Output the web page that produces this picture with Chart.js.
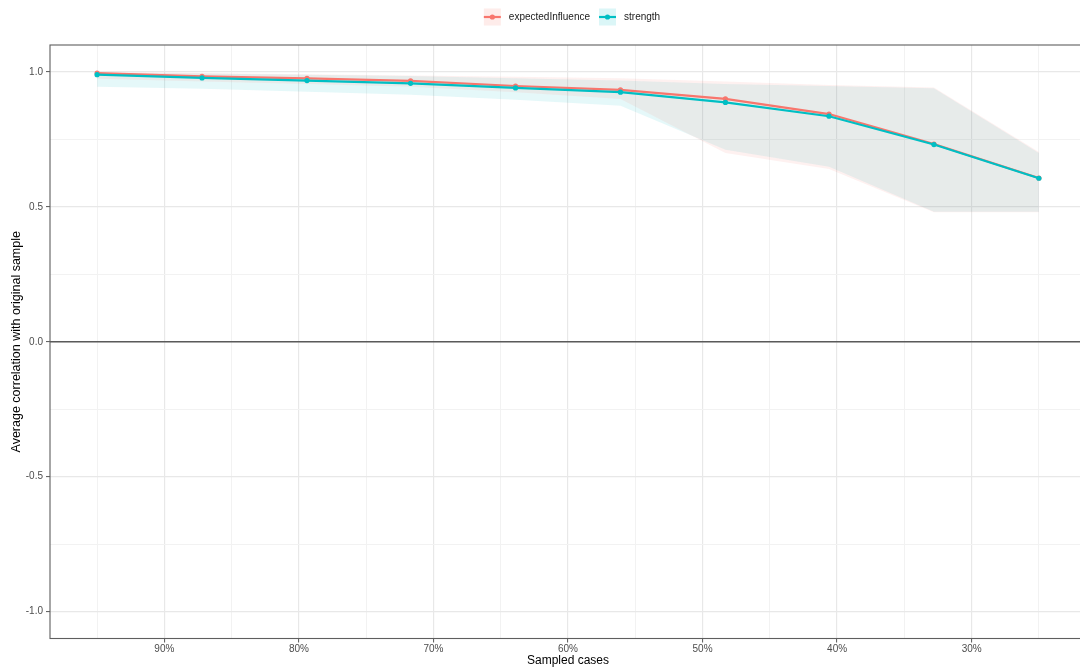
<!DOCTYPE html>
<html>
<head>
<meta charset="utf-8">
<script src="https://cdn.jsdelivr.net/npm/chart.js@4/dist/chart.umd.min.js"></script>
<style>
  html, body { margin: 0; padding: 0; background: #ffffff; overflow: hidden; }
  #wrap { width: 1090px; height: 670px; }
</style>
</head>
<body>
<div id="wrap"><canvas id="chart" width="1090" height="670"></canvas></div>
<script>
// Proportion of cases retained in each case-dropping subset (%)
const sampledCases = [95, 87.2, 79.4, 71.7, 63.9, 56.1, 48.3, 40.6, 32.8, 25];

// expectedInfluence: mean correlation with the original sample and its quantile band
const eiMean  = [0.996, 0.984, 0.976, 0.967, 0.948, 0.934, 0.900, 0.844, 0.733, 0.607];
const eiLower = [0.975, 0.965, 0.955, 0.945, 0.925, 0.900, 0.700, 0.640, 0.480, 0.480];
const eiUpper = [1.000, 0.996, 0.992, 0.987, 0.982, 0.977, 0.965, 0.952, 0.942, 0.703];

// strength: mean correlation with the original sample and its quantile band
const stMean  = [0.990, 0.978, 0.968, 0.958, 0.941, 0.925, 0.887, 0.836, 0.731, 0.606];
const stLower = [0.945, 0.938, 0.927, 0.916, 0.897, 0.875, 0.712, 0.649, 0.482, 0.482];
const stUpper = [0.998, 0.994, 0.990, 0.985, 0.977, 0.968, 0.955, 0.948, 0.940, 0.700];

const seriesNames = ['expectedInfluence', 'strength'];

// Axis ticks
const xMajorTicks = [90, 80, 70, 60, 50, 40, 30];
const xMinorTicks = [95, 85, 75, 65, 55, 45, 35, 25];
const yMajorTicks = [-1, -0.5, 0, 0.5, 1];
const yMinorTicks = [-0.75, -0.25, 0.25, 0.75];

const xTitle = 'Sampled cases';
const yTitle = 'Average correlation with original sample';

const RED = '#F8766D';
const TEAL = '#00BFC4';
const RED_BAND = 'rgba(248,118,109,0.10)';
const TEAL_BAND = 'rgba(0,191,196,0.10)';

const FONT = "'Liberation Sans', Arial, Helvetica, sans-serif";
Chart.defaults.font.family = FONT;

const pts = (ys) => sampledCases.map((x, i) => ({ x: x, y: ys[i] }));

const lineDs = (label, ys, color, order) => ({
  label: label,
  data: pts(ys),
  borderColor: color,
  backgroundColor: color,
  borderWidth: 2.2,
  pointRadius: 2.6,
  pointBorderWidth: 0,
  pointBackgroundColor: color,
  tension: 0,
  fill: false,
  order: order
});

const bandDs = (ys, fillColor, isUpper, order) => ({
  data: pts(ys),
  borderColor: 'transparent',
  borderWidth: 1,
  pointRadius: 0,
  backgroundColor: fillColor,
  fill: isUpper ? '-1' : false,
  tension: 0,
  order: order
});

const majorSet = (arr) => new Set(arr.map(v => v.toFixed(3)));
const xMajorSet = majorSet(xMajorTicks);
const yMajorSet = majorSet(yMajorTicks);

const isMajor = (set, ctx) => set.has(Number(ctx.tick.value).toFixed(3));
const gridColor = (set) => (ctx) => isMajor(set, ctx) ? '#E8E8E8' : '#F2F2F2';
const gridWidth = (set) => (ctx) => isMajor(set, ctx) ? 1.2 : 1;
const tickColor = (set) => (ctx) => isMajor(set, ctx) ? '#555555' : 'rgba(0,0,0,0)';

// Zero reference line and the panel frame
const panelPlugin = {
  id: 'panel',
  beforeDatasetsDraw(chart) {
    const { ctx, chartArea, scales } = chart;
    const y0 = scales.y.getPixelForValue(0);
    ctx.save();
    ctx.strokeStyle = '#5A5A5A';
    ctx.lineWidth = 1.6;
    ctx.beginPath();
    ctx.moveTo(chartArea.left, y0);
    ctx.lineTo(chartArea.right, y0);
    ctx.stroke();
    ctx.restore();
  },
  afterDraw(chart) {
    const { ctx, chartArea } = chart;
    ctx.save();
    ctx.strokeStyle = '#5E5E5E';
    ctx.lineWidth = 1.1;
    ctx.strokeRect(chartArea.left, chartArea.top, chartArea.right - chartArea.left, chartArea.bottom - chartArea.top);
    ctx.restore();
  }
};

// Legend above the panel: band-coloured key with line and point, then the name
const legendPlugin = {
  id: 'topLegend',
  afterDraw(chart) {
    const { ctx, chartArea } = chart;
    const keys = [
      { name: seriesNames[0], color: RED, band: 'rgba(248,118,109,0.14)' },
      { name: seriesNames[1], color: TEAL, band: 'rgba(0,191,196,0.14)' }
    ];
    const keySize = 17, keyGap = 8, itemGap = 9;
    ctx.save();
    ctx.font = '10px ' + FONT;
    const widths = keys.map(k => keySize + keyGap + ctx.measureText(k.name).width);
    const total = widths.reduce((a, b) => a + b, 0) + itemGap * (keys.length - 1);
    const cx = (chartArea.left + chartArea.right) / 2 + 4;
    let x = cx - total / 2;
    const cy = 17;
    keys.forEach((k, i) => {
      ctx.fillStyle = k.band;
      ctx.fillRect(x, cy - keySize / 2, keySize, keySize);
      ctx.strokeStyle = k.color;
      ctx.lineWidth = 2.2;
      ctx.beginPath();
      ctx.moveTo(x, cy);
      ctx.lineTo(x + keySize, cy);
      ctx.stroke();
      ctx.fillStyle = k.color;
      ctx.beginPath();
      ctx.arc(x + keySize / 2, cy, 2.6, 0, Math.PI * 2);
      ctx.fill();
      ctx.fillStyle = '#1A1A1A';
      ctx.textBaseline = 'middle';
      ctx.textAlign = 'left';
      ctx.fillText(k.name, x + keySize + keyGap, cy);
      x += widths[i] + itemGap;
    });
    ctx.restore();
  }
};

new Chart(document.getElementById('chart'), {
  type: 'line',
  data: {
    datasets: [
      lineDs(seriesNames[1], stMean, TEAL, 0),
      lineDs(seriesNames[0], eiMean, RED, 1),
      bandDs(eiLower, RED_BAND, false, 10),
      bandDs(eiUpper, RED_BAND, true, 10),
      bandDs(stLower, TEAL_BAND, false, 11),
      bandDs(stUpper, TEAL_BAND, true, 11)
    ]
  },
  options: {
    responsive: false,
    animation: false,
    events: [],
    layout: { padding: { top: 45, right: 4, bottom: 0, left: 0 } },
    plugins: {
      legend: { display: false },
      tooltip: { enabled: false },
      filler: { propagate: false }
    },
    scales: {
      x: {
        type: 'linear',
        reverse: true,
        min: 21.5,
        max: 98.5,
        afterBuildTicks(scale) {
          scale.ticks = xMajorTicks.concat(xMinorTicks).sort((a, b) => b - a).map(v => ({ value: v }));
        },
        afterFit(scale) { scale.height = 31.5; },
        grid: {
          color: gridColor(xMajorSet),
          lineWidth: gridWidth(xMajorSet),
          tickColor: tickColor(xMajorSet),
          tickLength: 4,
          tickWidth: 1
        },
        border: { display: false },
        ticks: {
          autoSkip: false,
          maxRotation: 0,
          padding: 1,
          color: '#4D4D4D',
          font: { size: 10 },
          callback(v) { return xMajorSet.has(Number(v).toFixed(3)) ? v + '%' : ''; }
        },
        title: {
          display: true,
          text: xTitle,
          color: '#000000',
          font: { size: 12 },
          padding: { top: 0, bottom: 2.5 }
        }
      },
      y: {
        type: 'linear',
        min: -1.1,
        max: 1.1,
        afterBuildTicks(scale) {
          scale.ticks = yMajorTicks.concat(yMinorTicks).sort((a, b) => a - b).map(v => ({ value: v }));
        },
        afterFit(scale) { scale.width = 50; },
        grid: {
          color: gridColor(yMajorSet),
          lineWidth: gridWidth(yMajorSet),
          tickColor: tickColor(yMajorSet),
          tickLength: 4,
          tickWidth: 1
        },
        border: { display: false },
        ticks: {
          autoSkip: false,
          padding: 3,
          color: '#4D4D4D',
          font: { size: 10 },
          callback(v) { return yMajorSet.has(Number(v).toFixed(3)) ? Number(v).toFixed(1) : ''; }
        },
        title: {
          display: true,
          text: yTitle,
          color: '#000000',
          font: { size: 12.5 },
          padding: { top: 9, bottom: 0 }
        }
      }
    }
  },
  plugins: [panelPlugin, legendPlugin]
});
</script>
</body>
</html>
